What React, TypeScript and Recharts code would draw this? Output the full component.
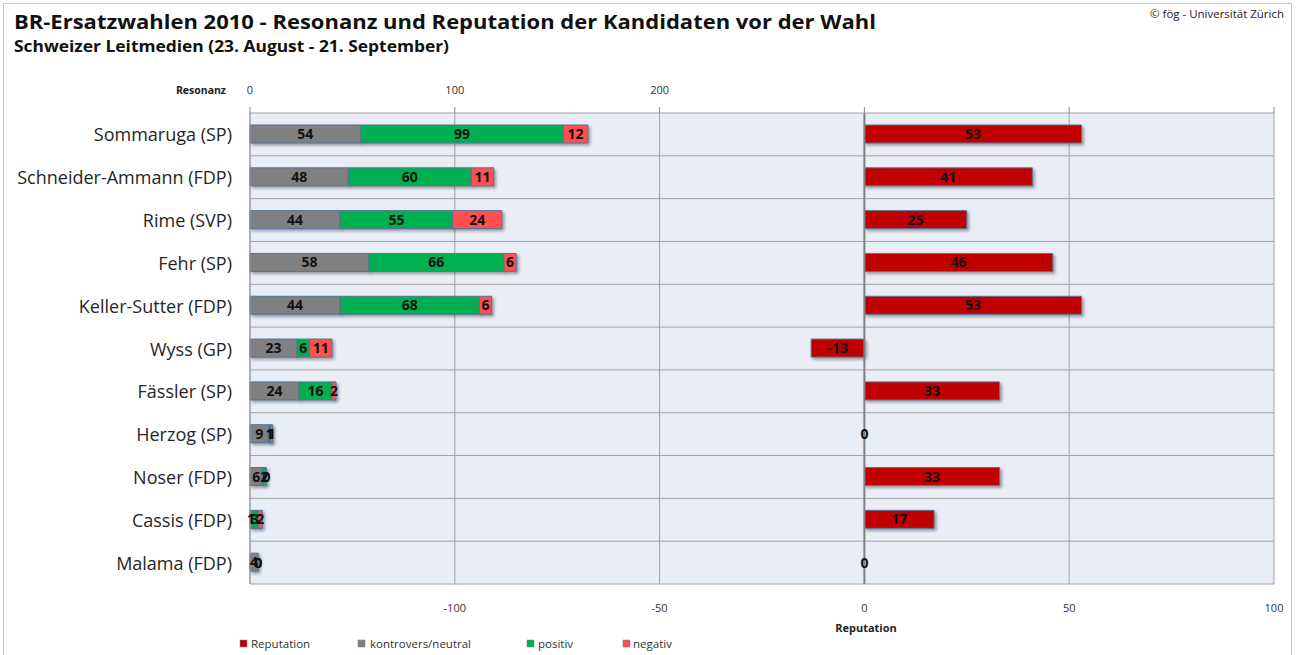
import React from "react";
import { Bar, CartesianGrid, ComposedChart, LabelList, ReferenceDot, ReferenceLine, XAxis, YAxis } from "recharts";

const candidates = [
  "Sommaruga (SP)",
  "Schneider-Ammann (FDP)",
  "Rime (SVP)",
  "Fehr (SP)",
  "Keller-Sutter (FDP)",
  "Wyss (GP)",
  "Fässler (SP)",
  "Herzog (SP)",
  "Noser (FDP)",
  "Cassis (FDP)",
  "Malama (FDP)",
];
const neutral = [54, 48, 44, 58, 44, 23, 24, 9, 6, 1, 4];
const positiv = [99, 60, 55, 66, 68, 6, 16, 1, 2, 3, 0];
const negativ = [12, 11, 24, 6, 6, 11, 2, 1, 0, 2, 0];
const reputation = [53, 41, 25, 46, 53, -13, 33, 0, 33, 17, 0];

const resonanzTicks = [0, 100, 200, 300, 400, 500];
const reputationTicks = [-100, -50, 0, 50, 100];

const legendItems = [
  { label: "Reputation", color: "#c00000", x: 240, tx: 251 },
  { label: "kontrovers/neutral", color: "#808080", x: 358, tx: 370 },
  { label: "positiv", color: "#00b050", x: 527, tx: 538 },
  { label: "negativ", color: "#ff5050", x: 623, tx: 633 },
];

const data = candidates.map((name, i) => ({
  name,
  neutral: neutral[i],
  positiv: positiv[i],
  negativ: negativ[i],
  reputation: reputation[i],
}));

// zero-valued segments draw no rectangle, so their "0" label goes through a ReferenceDot
const stackKeys = ["neutral", "positiv", "negativ"] as const;
const zeroStackLabels: { name: string; x: number }[] = [];
data.forEach((d) => {
  let sum = 0;
  stackKeys.forEach((k) => {
    sum += d[k];
    if (d[k] === 0) zeroStackLabels.push({ name: d.name, x: sum });
  });
});
const zeroRepLabels = data.filter((d) => d.reputation === 0);

const FONT = "'Open Sans', 'Noto Sans', sans-serif";

function CategoryTick({ x, y, payload }: any) {
  return (
    <text x={x} y={y} textAnchor="end" dominantBaseline="central" fontSize={18} fill="#262626">
      {payload.value}
    </text>
  );
}

function ResonanzTick({ x, y, payload }: any) {
  if (payload.value > 200) return <g />;
  return (
    <text x={x} y={y} textAnchor="middle" fontSize={11} fill="#333">
      {payload.value}
    </text>
  );
}

function ReputationTick({ x, y, payload }: any) {
  return (
    <text x={x} y={y} textAnchor="middle" fontSize={11} fill="#333">
      {payload.value}
    </text>
  );
}

// horizontal grid lines on the borders between candidate rows
function rowLines({ offset }: any) {
  const n = candidates.length;
  return Array.from({ length: n + 1 }, (_, i) => offset.top + (i * offset.height) / n);
}

const labelProps = { position: "center" as const, fill: "#111", fontSize: 14, fontWeight: "bold" };
const zeroLabel = { value: "0", position: "center" as const, fill: "#111", fontSize: 14, fontWeight: "bold" };
const barStroke = "#55739a";

export default function App() {
  return (
    <div style={{ position: "absolute", left: 0, top: 0, width: 1296, height: 655, fontFamily: FONT, background: "#fff", overflow: "hidden" }}>
      <style>{`.recharts-bar-rectangle path { filter: drop-shadow(2px 2px 1.5px rgba(0,0,0,0.35)); }`}</style>
      <ComposedChart
        width={1296}
        height={655}
        data={data}
        layout="vertical"
        margin={{ top: 83, right: 22, bottom: 41, left: 0 }}
      >
        <CartesianGrid
          xAxisId="rep"
          yAxisId="cat"
          fill="#e9edf5"
          stroke="#a0a0a0"
          fillOpacity={1}
          horizontalCoordinatesGenerator={rowLines}
        />
        <XAxis
          xAxisId="res"
          type="number"
          orientation="top"
          domain={[0, 500]}
          ticks={resonanzTicks}
          axisLine={false}
          tickLine={{ stroke: "#888" }}
          tickSize={6}
          tickMargin={13}
          tick={<ResonanzTick />}
          height={30}
        />
        <XAxis
          xAxisId="rep"
          type="number"
          orientation="bottom"
          domain={[-150, 100]}
          ticks={reputationTicks}
          axisLine={false}
          tickLine={false}
          tickSize={0}
          tickMargin={28}
          tick={<ReputationTick />}
          height={30}
        />
        <YAxis
          yAxisId="cat"
          type="category"
          dataKey="name"
          width={250}
          axisLine={{ stroke: "#999" }}
          tickLine={false}
          tickMargin={12}
          tick={<CategoryTick />}
          interval={0}
        />
        <YAxis yAxisId="cat2" type="category" dataKey="name" hide />
        <ReferenceLine x={0} xAxisId="rep" yAxisId="cat" stroke="#808080" strokeWidth={2} />
        <Bar dataKey="neutral" name="kontrovers/neutral" stackId="r" xAxisId="res" yAxisId="cat" barSize={18} fill="#808080" stroke={barStroke} strokeWidth={1} isAnimationActive={false}>
          <LabelList dataKey="neutral" {...labelProps} />
        </Bar>
        <Bar dataKey="positiv" name="positiv" stackId="r" xAxisId="res" yAxisId="cat" barSize={18} fill="#00b050" stroke={barStroke} strokeWidth={1} isAnimationActive={false}>
          <LabelList dataKey="positiv" {...labelProps} />
        </Bar>
        <Bar dataKey="negativ" name="negativ" stackId="r" xAxisId="res" yAxisId="cat" barSize={18} fill="#ff5050" stroke={barStroke} strokeWidth={1} isAnimationActive={false}>
          <LabelList dataKey="negativ" {...labelProps} />
        </Bar>
        <Bar dataKey="reputation" name="Reputation" xAxisId="rep" yAxisId="cat2" barSize={18} fill="#c00000" stroke={barStroke} strokeWidth={1} isAnimationActive={false}>
          <LabelList dataKey="reputation" {...labelProps} />
        </Bar>
        {zeroStackLabels.map((z, i) => (
          <ReferenceDot key={`zs${i}`} x={z.x} y={z.name} xAxisId="res" yAxisId="cat" r={1} fill="none" stroke="none" label={zeroLabel} />
        ))}
        {zeroRepLabels.map((d) => (
          <ReferenceDot key={`zr${d.name}`} x={d.reputation} y={d.name} xAxisId="rep" yAxisId="cat" r={1} fill="none" stroke="none" label={zeroLabel} />
        ))}
      </ComposedChart>
      <svg width={1296} height={655} style={{ position: "absolute", left: 0, top: 0, pointerEvents: "none" }}>
        <rect x={3.5} y={3.5} width={1288} height={670} fill="none" stroke="#c8c8c8" />
        <text x={14} y={29} fontSize={20} fontWeight="bold" fill="#111" textLength={862} lengthAdjust="spacingAndGlyphs">
          BR-Ersatzwahlen 2010 - Resonanz und Reputation der Kandidaten vor der Wahl
        </text>
        <text x={14} y={52} fontSize={16} fontWeight="bold" fill="#111" textLength={435} lengthAdjust="spacingAndGlyphs">
          Schweizer Leitmedien (23. August - 21. September)
        </text>
        <text x={1150} y={18} fontSize={11} fill="#222" textLength={134} lengthAdjust="spacingAndGlyphs">
          © fög - Universität Zürich
        </text>
        <text x={226} y={94} fontSize={10.5} fontWeight="bold" fill="#222" textAnchor="end">
          Resonanz
        </text>
        <text x={866} y={632} fontSize={11} fontWeight="bold" fill="#222" textAnchor="middle">
          Reputation
        </text>
        {legendItems.map((it) => (
          <g key={it.label}>
            <rect x={it.x} y={640} width={7} height={7} fill={it.color} stroke="#6a7f9c" strokeWidth={0.5} />
            <text x={it.tx} y={648} fontSize={11.5} fill="#333">
              {it.label}
            </text>
          </g>
        ))}
      </svg>
    </div>
  );
}
